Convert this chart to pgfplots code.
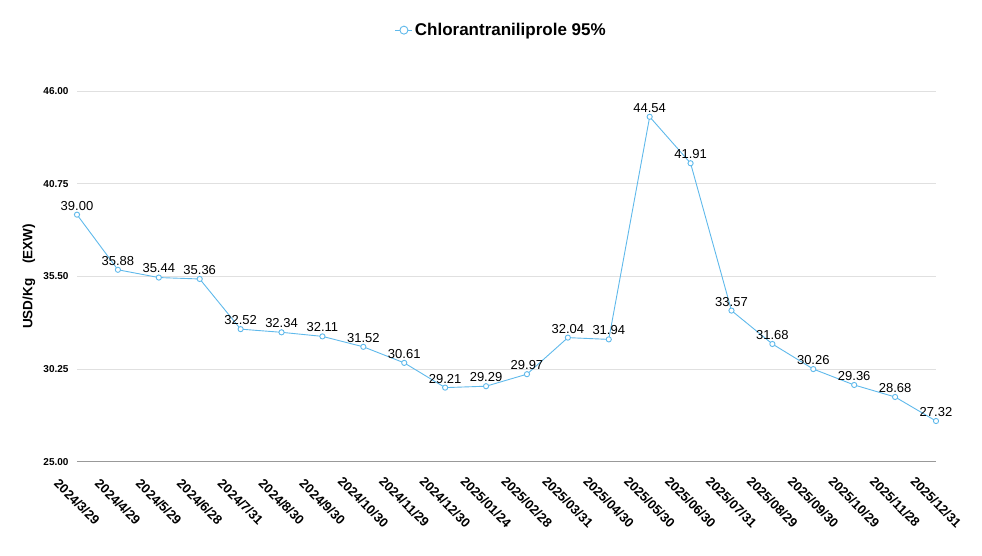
\documentclass[border=0pt]{standalone}
\usepackage{pgfplots}
\pgfplotsset{compat=1.18}
\usepackage{fontspec}
\setmainfont{Liberation Sans}
\definecolor{linec}{RGB}{95,185,235}
\pgfplotstableread{
x y
0 39.00
1 35.88
2 35.44
3 35.36
4 32.52
5 32.34
6 32.11
7 31.52
8 30.61
9 29.21
10 29.29
11 29.97
12 32.04
13 31.94
14 44.54
15 41.91
16 33.57
17 31.68
18 30.26
19 29.36
20 28.68
21 27.32
}\datatable
\begin{document}
\begin{tikzpicture}[x=1pt,y=1pt]
\path[use as bounding box] (0,0) rectangle (982,556);
\begin{axis}[
 at={(77pt,94pt)}, anchor=south west,
 width=859pt, height=371pt, scale only axis,
 xmin=0, xmax=21, ymin=25, ymax=46,
 clip=false,
 axis line style={draw=none},
 /pgf/number format/assume math mode=true,
 xtick={0,...,21},
 xticklabels={2024/3/29,2024/4/29,2024/5/29,2024/6/28,2024/7/31,2024/8/30,2024/9/30,2024/10/30,2024/11/29,2024/12/30,2025/01/24,2025/02/28,2025/03/31,2025/04/30,2025/05/30,2025/06/30,2025/07/31,2025/08/29,2025/09/30,2025/10/29,2025/11/28,2025/12/31},
 xticklabel style={font=\fontsize{13}{15}\selectfont\bfseries, yshift=-40pt, rotate=-45, anchor=center},
 ytick={30.25,35.5,40.75,46},
 extra y ticks={25},
 extra y tick style={grid style={draw=black!40, line width=1pt}},
 ymajorgrids, grid style={draw=black!12, line width=0.8pt},
 major tick length=0pt,
 yticklabel style={font=\fontsize{10}{12}\selectfont\bfseries, xshift=-5pt, /pgf/number format/.cd, fixed, fixed zerofill, precision=2},
 ylabel={USD/Kg\hspace{15pt}(EXW)},
 ylabel style={at={(axis description cs:-0.056,0.5)}, anchor=center, font=\fontsize{13.5}{15}\selectfont\bfseries},
 legend style={at={(axis description cs:0.494,1.164)}, anchor=center, draw=none, font=\fontsize{17}{19}\selectfont\bfseries},
 legend image code/.code={
   \draw[#1, mark=none] (0pt,0pt) -- (17pt,0pt);
   \draw[#1, mark=none, fill=white] (8.5pt,0pt) circle (4pt);
 },
 nodes near coords,
 point meta=explicit,
 nodes near coords style={font=\fontsize{13}{15}\selectfont, text=black, anchor=south, inner sep=1pt, yshift=3pt, /pgf/number format/.cd, fixed, fixed zerofill, precision=2},
]
\addplot[color=linec, line width=0.9pt, mark=*, mark size=2.6pt, mark options={fill=white, draw=linec, line width=0.9pt}] table[x=x, y=y, meta=y] {\datatable};
\addlegendentry{Chlorantraniliprole 95\%}
\end{axis}
\end{tikzpicture}
\end{document}
